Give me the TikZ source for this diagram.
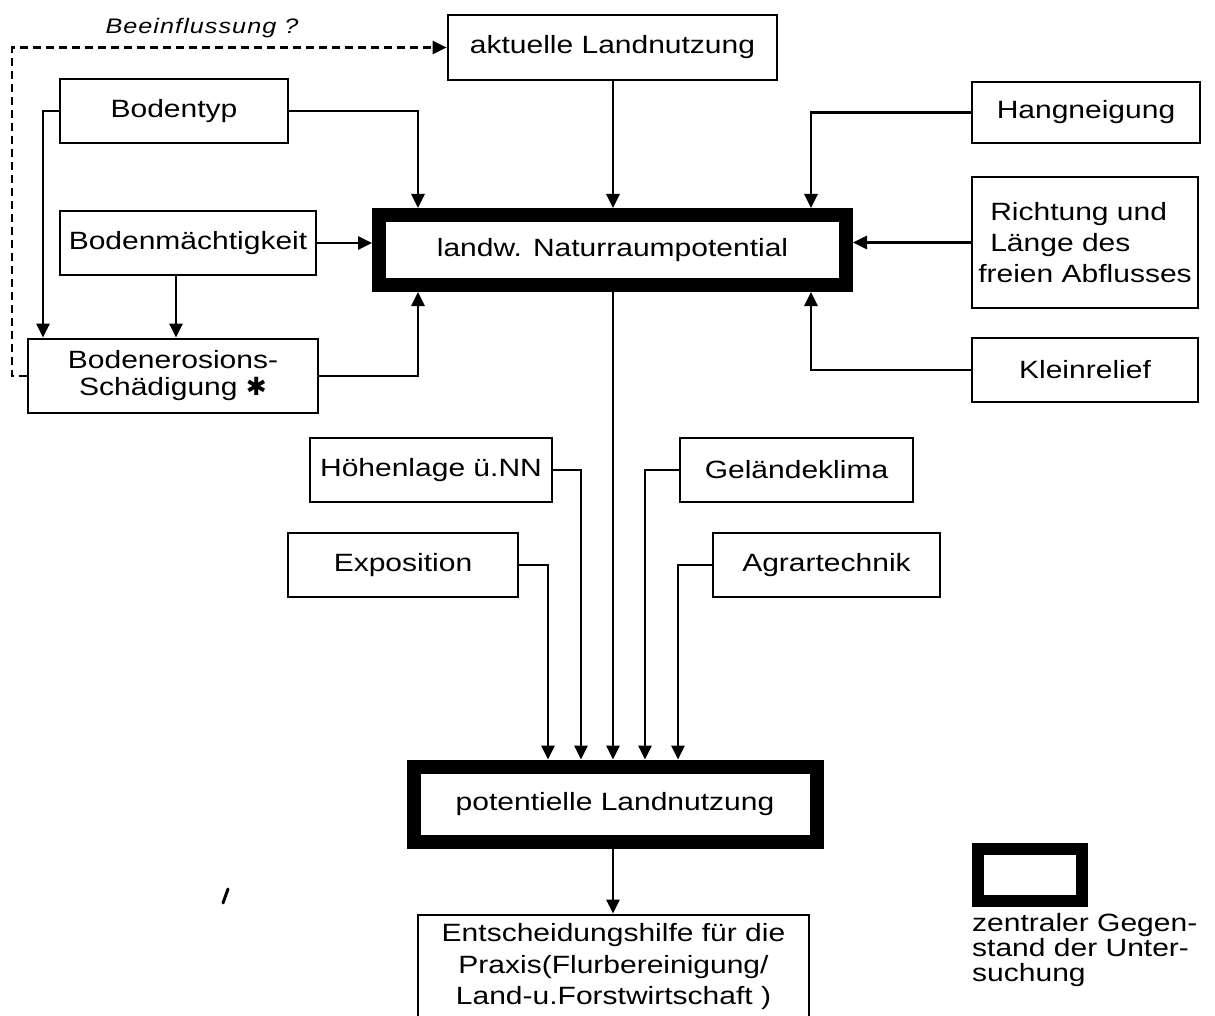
\documentclass[tikz,border=0pt]{standalone}
\usepackage{fontspec}
\setmainfont[FakeStretch=1.2]{Liberation Sans}
\newfontfamily\symfont{DejaVu Sans}
\usetikzlibrary{arrows.meta}
\newcommand\lab{\fontsize{25}{28}\selectfont}
\tikzset{
  box/.style={draw, line width=2.7pt, inner sep=0pt, font=\lab, align=center},
  thickbox/.style={draw, line width=14pt, inner sep=0pt, font=\lab},
  arr/.style={line width=2.7pt, -{Triangle[length=14pt,width=13pt]}},
  darr/.style={line width=2.4pt, dash pattern=on 8pt off 5pt, -{Triangle[length=14pt,width=13pt]}},
}
\begin{document}
\begin{tikzpicture}[x=1pt,y=-1pt]
\useasboundingbox (0,0) rectangle (1215,1016);
% nodes
\node[box, minimum width=329pt, minimum height=65pt] (akt) at (612.5,47.5) {aktuelle Landnutzung};
\node[box, minimum width=228pt, minimum height=64pt] (bodentyp) at (174,111) {Bodentyp};
\node[box, minimum width=256pt, minimum height=64pt] (boma) at (188,243) {Bodenmächtigkeit};
\node[box, minimum width=290pt, minimum height=74pt, font=\fontsize{25}{27}\selectfont] (ero) at (173,376) {Bodenerosions-\\Schädigung {\symfont\fontsize{25}{27}\selectfont ✱}};
\node[thickbox, minimum width=467pt, minimum height=70pt] (nat) at (612.5,250) {landw. Naturraumpotential};
\node[box, minimum width=228pt, minimum height=61pt] (hang) at (1086,112.5) {Hangneigung};
\node[box, minimum width=226pt, minimum height=131pt, align=left, font=\fontsize{25}{31}\selectfont] (richt) at (1085,242.5) {\hspace{12pt}Richtung und\\\hspace{12pt}Länge des\\freien Abflusses};
\node[box, minimum width=226pt, minimum height=64pt] (klein) at (1085,370) {Kleinrelief};
\node[box, minimum width=242pt, minimum height=64pt] (hoehe) at (431,470) {Höhenlage ü.NN};
\node[box, minimum width=230pt, minimum height=64pt] (expo) at (403,565) {Exposition};
\node[box, minimum width=233pt, minimum height=64pt] (gelk) at (796.5,470) {Geländeklima};
\node[box, minimum width=227pt, minimum height=64pt] (agrar) at (826.5,565) {Agrartechnik};
\node[thickbox, minimum width=403pt, minimum height=75pt] (pot) at (615,804) {potentielle Landnutzung};
\node[box, minimum width=391pt, minimum height=104pt, font=\fontsize{25}{31.5}\selectfont] (ents) at (613.5,967) {Entscheidungshilfe für die\\Praxis(Flurbereinigung/\\Land-u.Forstwirtschaft )};
% legend
\node[draw, line width=12pt, minimum width=104pt, minimum height=52pt, inner sep=0pt] (leg) at (1030,875) {};
\node[anchor=north west, inner sep=0pt, align=left, font=\fontsize{25}{25}\selectfont] (legt) at (972,913) {zentraler Gegen-\\stand der Unter-\\suchung};
% label
\node[font=\fontsize{21}{24}\selectfont\itshape\addfontfeature{LetterSpace=5}] (beein) at (202,28) {Beeinflussung ?};
% column coordinates
\coordinate (c43) at (43,0);
\coordinate (c176) at (176,0);
\coordinate (c418) at (418,0);
\coordinate (c613) at (613,0);
\coordinate (c811) at (811,0);
\coordinate (c548) at (548,0);
\coordinate (c581) at (581,0);
\coordinate (c645) at (645,0);
\coordinate (c678) at (678,0);
\coordinate (dl) at (12,47.5);
% connectors
\draw[darr] (ero.west) -| (dl) -- (akt.west);
\draw[arr] (bodentyp.west) -| (ero.north -| c43);
\draw[arr] (bodentyp.east) -| (nat.north -| c418);
\draw[arr] (boma.east) -- (nat.west |- boma.east);
\draw[arr] (boma.south -| c176) -- (ero.north -| c176);
\draw[arr] (ero.east) -| (nat.south -| c418);
\draw[arr] (akt.south -| c613) -- (nat.north -| c613);
\draw[arr] (hang.west) -| (nat.north -| c811);
\draw[arr] (richt.west) -- (nat.east |- richt.west);
\draw[arr] (klein.west) -| (nat.south -| c811);
\draw[arr] (nat.south -| c613) -- (pot.north -| c613);
\draw[arr] (expo.east) -| (pot.north -| c548);
\draw[arr] (hoehe.east) -| (pot.north -| c581);
\draw[arr] (gelk.west) -| (pot.north -| c645);
\draw[arr] (agrar.west) -| (pot.north -| c678);
\draw[arr] (pot.south -| c613) -- (ents.north -| c613);
% stray mark
\draw[line width=3pt, line cap=round] (223,903) -- (228,889);
\end{tikzpicture}
\end{document}
